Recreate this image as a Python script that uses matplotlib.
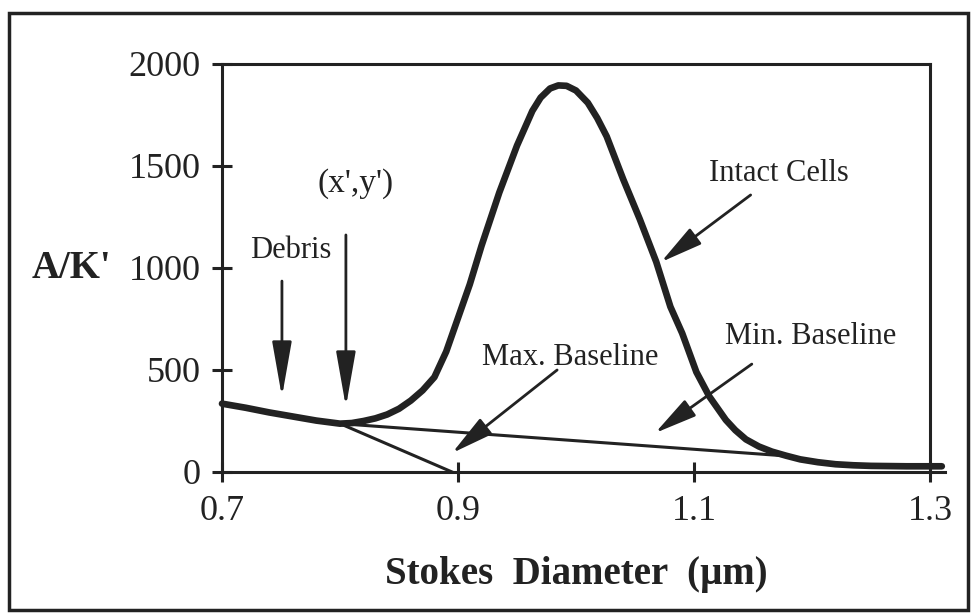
import matplotlib
matplotlib.use("Agg")
import matplotlib.pyplot as plt
from matplotlib.patches import Rectangle

# ---- data ----
diameter = [0.700, 0.720, 0.740, 0.760, 0.780, 0.800, 0.810, 0.820, 0.830, 0.840,
            0.850, 0.860, 0.870, 0.880, 0.890, 0.900, 0.910, 0.920, 0.935, 0.950,
            0.963, 0.970, 0.978, 0.985, 0.992, 1.000, 1.010, 1.018, 1.026, 1.040,
            1.054, 1.068, 1.080, 1.090, 1.102, 1.113, 1.127, 1.135, 1.144, 1.155,
            1.166, 1.178, 1.190, 1.205, 1.220, 1.235, 1.250, 1.280, 1.310]
ak = [335, 315, 292, 272, 252, 237, 240, 250, 263, 282,
      310, 350, 400, 465, 590, 755, 920, 1110, 1370, 1600,
      1770, 1835, 1880, 1895, 1893, 1870, 1810, 1735, 1645, 1435,
      1240, 1030, 810, 680, 490, 370, 255, 205, 160, 125,
      100, 80, 62, 48, 38, 33, 30, 28, 28]

max_base_x = [0.800, 0.895]
max_base_y = [237, 0]
min_base_x = [0.800, 1.175]
min_base_y = [237, 80]

x_ticks = [0.7, 0.9, 1.1, 1.3]
x_tick_labels = ["0.7", "0.9", "1.1", "1.3"]
y_ticks = [0, 500, 1000, 1500, 2000]
y_tick_labels = ["0", "500", "1000", "1500", "2000"]

# annotations: (text, text_x, text_y_baseline, size)
labels = [("Debris", 0.758, 1049, 22),
          ("(x',y')", 0.813, 1373, 24),
          ("Intact Cells", 1.172, 1426, 22),
          ("Min. Baseline", 1.199, 627, 22),
          ("Max. Baseline", 0.995, 524, 22)]
# arrows: (tail_x, tail_y, tip_x, tip_y)
arrows = [(0.7508, 936, 0.7508, 368),
          (0.805, 1162, 0.805, 319),
          (1.148, 1358, 1.072, 1029),
          (0.984, 500, 0.895, 93),
          (1.149, 529, 1.067, 191)]

INK = "#222222"
plt.rcParams['font.family'] = ['Liberation Serif', 'DejaVu Serif']

fig = plt.figure(figsize=(9.71, 6.13), dpi=100)
ax = fig.add_axes([222/971, 1-472/613, 708/971, 408/613])

ax.plot(diameter, ak, color=INK, lw=4.8, solid_capstyle='round',
        solid_joinstyle='round', clip_on=False, zorder=4)
ax.plot(max_base_x, max_base_y, color=INK, lw=2.2, zorder=3)
ax.plot(min_base_x, min_base_y, color=INK, lw=2.2, zorder=3)

ax.set_xlim(0.7, 1.3)
ax.set_ylim(0, 2000)
# small extension of the x axis line beyond 1.3
ax.plot([1.3, 1.313], [0, 0], color=INK, lw=2.2, clip_on=False, zorder=2)

for s in ax.spines.values():
    s.set_color(INK)
    s.set_linewidth(2.2)

ax.set_xticks(x_ticks)
ax.set_xticklabels(x_tick_labels)
ax.set_yticks(y_ticks)
ax.set_yticklabels(y_tick_labels)
ax.tick_params(axis='both', direction='inout', length=15, width=2.2,
               color=INK, labelcolor=INK, labelsize=26)
ax.tick_params(axis='x', pad=9)
ax.tick_params(axis='y', pad=8)

ax.set_xlabel("Stokes  Diameter  (\u00b5m)", fontsize=28, fontweight='bold',
              color=INK)
ax.xaxis.set_label_coords(0.5, -0.205)
ax.set_ylabel("A/K'", fontsize=28, fontweight='bold', rotation=0,
              color=INK, ha='center', va='center')
ax.yaxis.set_label_coords(-0.212, 0.5)

for txt, tx, ty, fs in labels:
    ax.text(tx, ty, txt, fontsize=fs, ha='center', va='baseline', color=INK)

for x0, y0, x1, y1 in arrows:
    vertical = (x0 == x1)
    style = ('-|>,head_length=1.7,head_width=0.3' if vertical
             else '-|>,head_length=1.3,head_width=0.3')
    ax.annotate('', xy=(x1, y1), xytext=(x0, y0),
                arrowprops=dict(arrowstyle=style, mutation_scale=20,
                                lw=2.0, color=INK, shrinkA=0, shrinkB=0))

# outer frame of the figure
fig.patches.append(Rectangle((9/971, 1-610/613), (968-9)/971, (610-13)/613,
                             transform=fig.transFigure, fill=False,
                             edgecolor=INK, linewidth=2.5))

fig.savefig("out.png", dpi=100)
